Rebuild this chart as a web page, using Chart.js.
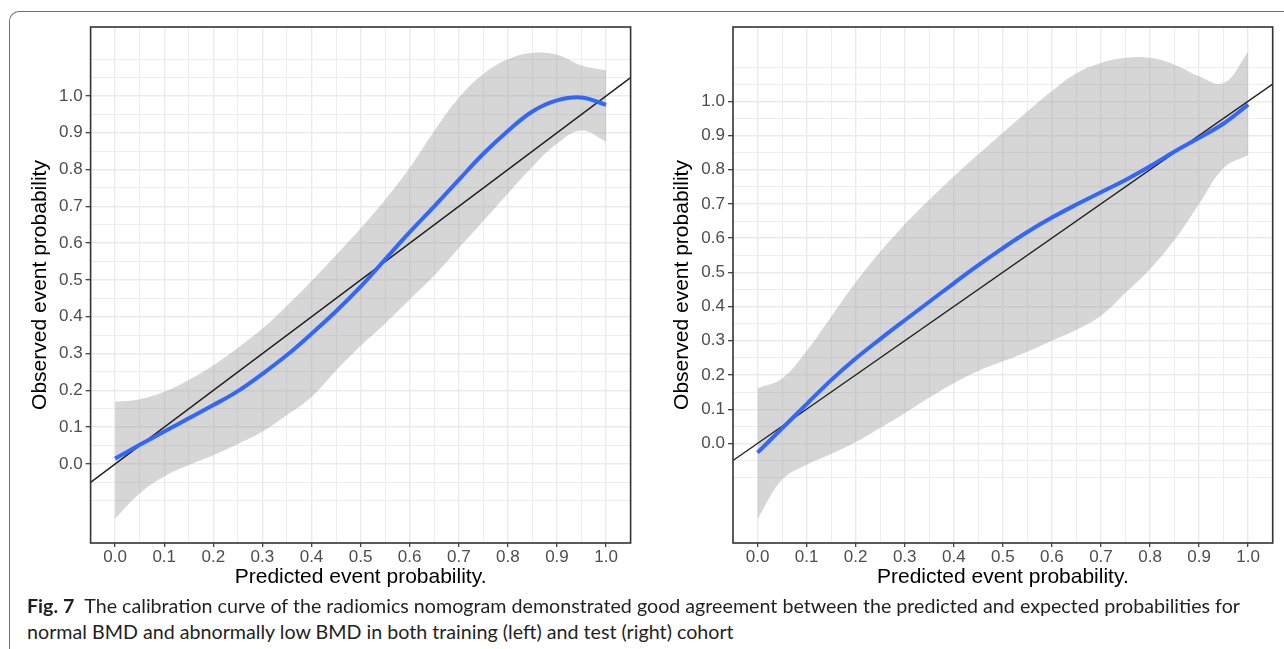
<!DOCTYPE html>
<html>
<head>
<meta charset="utf-8">
<script src="https://cdn.jsdelivr.net/npm/chart.js"></script>
<style>
  body { margin: 0; background: #fff; width: 1284px; height: 649px; overflow: hidden; position: relative; }
  .frame { position: absolute; left: 9px; top: 11px; width: 1320px; height: 700px;
           border-left: 1.5px solid #707070; border-top: 1.5px solid #707070; border-top-left-radius: 10px; }
  .panel { position: absolute; top: 0; width: 642px; height: 600px; }
  #leftPanel { left: 0; }
  #rightPanel { left: 642px; }
  .cap { position: absolute; left: 27px; font-family: Lato, 'Open Sans', sans-serif; font-size: 19px;
         line-height: 19px; color: #231f20; white-space: nowrap; transform-origin: 0 0; }
</style>
</head>
<body>
<div class="frame"></div>
<div class="panel" id="leftPanel"><canvas id="trainChart"></canvas></div>
<div class="panel" id="rightPanel"><canvas id="testChart"></canvas></div>
<div class="cap" id="cap1" style="top:596px"><b>Fig. 7</b>&ensp;The calibration curve of the radiomics nomogram demonstrated good agreement between the predicted and expected probabilities for</div>
<div class="cap" id="cap2" style="top:622px">normal BMD and abnormally low BMD in both training (left) and test (right) cohort</div>
<script>
// predicted probability grid
var xGrid = [0, 0.05, 0.1, 0.15, 0.2, 0.25, 0.3, 0.35, 0.4, 0.45, 0.5,
             0.55, 0.6, 0.65, 0.7, 0.75, 0.8, 0.85, 0.9, 0.95, 1.0];

// training cohort (left)
var trainFit   = [0.015, 0.052, 0.088, 0.124, 0.160, 0.198, 0.245, 0.296, 0.354, 0.415, 0.482,
                  0.556, 0.630, 0.700, 0.772, 0.843, 0.905, 0.958, 0.988, 0.996, 0.976];
var trainUpper = [0.169, 0.176, 0.196, 0.228, 0.268, 0.316, 0.368, 0.430, 0.497, 0.568, 0.640,
                  0.718, 0.805, 0.905, 0.995, 1.060, 1.100, 1.117, 1.112, 1.083, 1.070];
var trainLower = [-0.148, -0.080, -0.034, -0.003, 0.024, 0.054, 0.088, 0.133, 0.182, 0.254, 0.321,
                  0.382, 0.447, 0.512, 0.587, 0.660, 0.735, 0.808, 0.870, 0.906, 0.876];

// test cohort (right)
var testFit   = [-0.027, 0.044, 0.115, 0.185, 0.248, 0.305, 0.360, 0.414, 0.468, 0.521, 0.571,
                 0.618, 0.660, 0.698, 0.734, 0.770, 0.810, 0.853, 0.893, 0.935, 0.990];
var testUpper = [0.161, 0.190, 0.270, 0.370, 0.470, 0.560, 0.640, 0.712, 0.780, 0.845, 0.908,
                 0.970, 1.030, 1.082, 1.112, 1.127, 1.127, 1.107, 1.073, 1.053, 1.145];
var testLower = [-0.220, -0.106, -0.062, -0.031, 0.004, 0.045, 0.088, 0.134, 0.176, 0.212, 0.240,
                 0.268, 0.300, 0.332, 0.373, 0.440, 0.510, 0.595, 0.700, 0.805, 0.843];

// ideal line y = x across the panel
var refLine = [-0.05, 1.05];

// labelled breaks
var tickValues = [0, 0.1, 0.2, 0.3, 0.4, 0.5, 0.6, 0.7, 0.8, 0.9, 1.0];
var tickLabels = ['0.0', '0.1', '0.2', '0.3', '0.4', '0.5', '0.6', '0.7', '0.8', '0.9', '1.0'];

Chart.defaults.font.family = "'Liberation Sans', Arial, sans-serif";

function pts(xs, ys) {
    return xs.map(function (x, i) { return { x: x, y: ys[i] }; });
}

function labelIndex(v) {
    for (var i = 0; i < tickValues.length; i++) {
        if (Math.abs(tickValues[i] - v) < 1e-6) return i;
    }
    return -1;
}

// major + minor (half step) grid positions, like ggplot
function gridPositions(from, to) {
    var out = [];
    for (var i = Math.round(from * 20); i <= Math.round(to * 20); i++) out.push(+(i * 0.05).toFixed(2));
    return out;
}

var panelBox = {
    id: 'panelBox',
    afterDatasetsDraw: function (chart) {
        var a = chart.chartArea, c = chart.ctx;
        c.save();
        c.strokeStyle = '#333333';
        c.lineWidth = 1.6;
        c.strokeRect(a.left, a.top, a.right - a.left, a.bottom - a.top);
        c.restore();
    }
};

function axisOpts(gridVals, title, isX, size) {
    return {
        type: 'linear',
        afterBuildTicks: function (axis) {
            axis.ticks = gridVals.map(function (v) { return { value: v }; });
        },
        afterFit: function (axis) {
            if (isX) axis.height = size; else axis.width = size;
        },
        border: { display: false },
        grid: {
            color: '#ebebeb',
            lineWidth: function (ctx) { return labelIndex(ctx.tick.value) >= 0 ? 1.4 : 0.9; },
            tickColor: function (ctx) { return labelIndex(ctx.tick.value) >= 0 ? '#333333' : 'rgba(0,0,0,0)'; },
            tickWidth: 1.2,
            tickLength: isX ? 4 : 5
        },
        ticks: {
            autoSkip: false,
            maxRotation: 0,
            padding: isX ? 0 : 3,
            color: '#4d4d4d',
            font: { size: 17 },
            callback: function (value) {
                var i = labelIndex(value);
                return i >= 0 ? tickLabels[i] : '';
            }
        },
        title: {
            display: true,
            text: title,
            color: '#000000',
            font: { size: 21 },
            padding: isX ? { top: 0, bottom: 10 } : { top: 28, bottom: 0 }
        }
    };
}

function makeCalibration(id, fit, lower, upper, yMin, yMax, yAxisWidth, padRight) {
    var x = axisOpts(gridPositions(0, 1), 'Predicted event probability.', true, 57);
    x.min = -0.05; x.max = 1.05;
    var y = axisOpts(gridPositions(-0.1, 1.1), 'Observed event probability', false, yAxisWidth);
    y.min = yMin; y.max = yMax;

    return new Chart(document.getElementById(id).getContext('2d'), {
        type: 'line',
        data: {
            datasets: [{
                data: pts(xGrid, fit),
                borderColor: '#3366FF',
                borderWidth: 4,
                pointRadius: 0,
                tension: 0.4,
                fill: false
            }, {
                data: refLine.map(function (v) { return { x: v, y: v }; }),
                borderColor: '#1f1f1f',
                borderWidth: 1.4,
                pointRadius: 0,
                fill: false
            }, {
                data: pts(xGrid, upper),
                borderColor: 'rgba(0,0,0,0)',
                backgroundColor: 'rgba(153,153,153,0.4)',
                pointRadius: 0,
                tension: 0.4,
                fill: '+1'
            }, {
                data: pts(xGrid, lower),
                borderColor: 'rgba(0,0,0,0)',
                pointRadius: 0,
                tension: 0.4,
                fill: false
            }]
        },
        options: {
            responsive: true,
            maintainAspectRatio: false,
            animation: false,
            events: [],
            layout: { padding: { left: 0, right: padRight, top: 27, bottom: 0 } },
            plugins: { legend: { display: false }, tooltip: { enabled: false } },
            scales: { x: x, y: y }
        },
        plugins: [panelBox]
    });
}

makeCalibration('trainChart', trainFit, trainLower, trainUpper, -0.2147, 1.1875, 90.6, 11.4);
makeCalibration('testChart', testFit, testLower, testUpper, -0.291, 1.217, 91, 11.3);

// fit caption to the original line length
document.fonts.ready.then(function () {
    var c1 = document.getElementById('cap1'), c2 = document.getElementById('cap2');
    var k = 1213 / c1.getBoundingClientRect().width;
    c1.style.transform = 'scaleX(' + k + ')';
    c2.style.transform = 'scaleX(' + k + ')';
});
</script>
</body>
</html>
